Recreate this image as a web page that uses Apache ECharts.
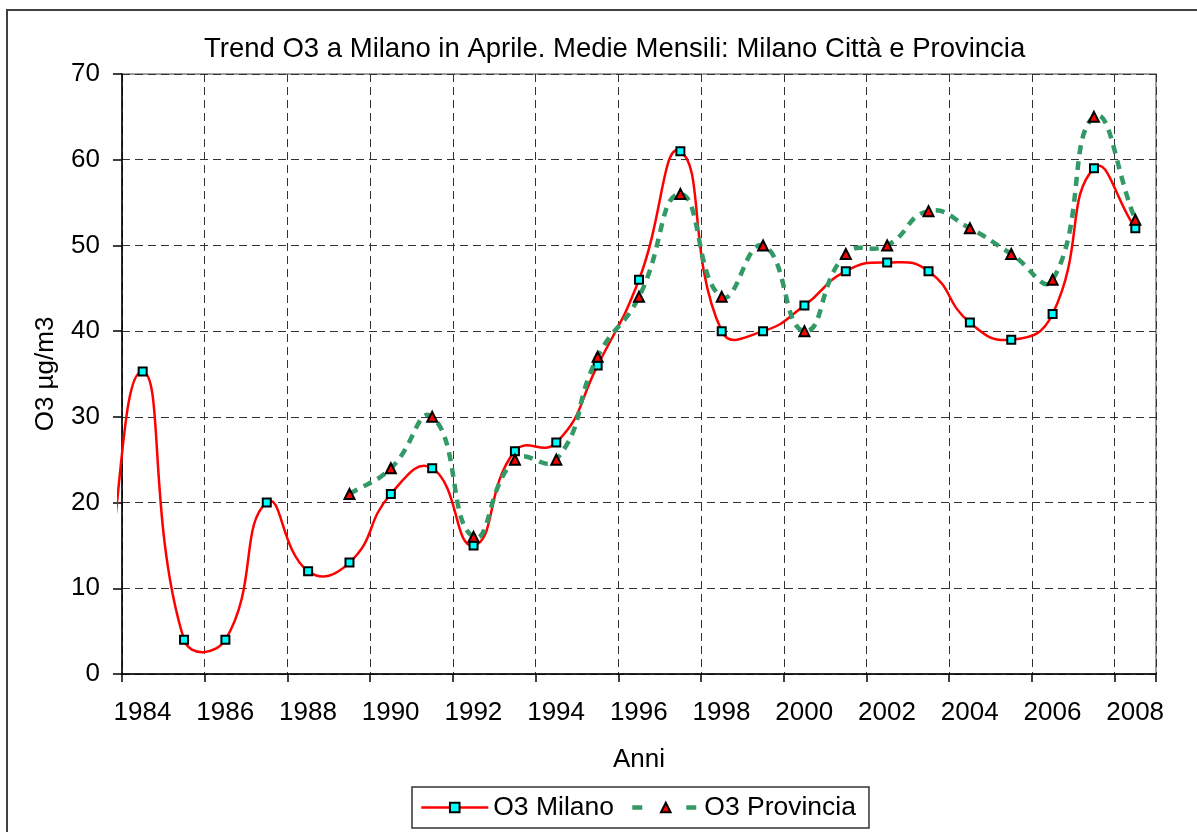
<!DOCTYPE html>
<html>
<head>
<meta charset="utf-8">
<script src="https://cdn.jsdelivr.net/npm/echarts@6/dist/echarts.min.js"></script>
<style>
html,body{margin:0;padding:0;background:#fff;}
#chart{width:1197px;height:832px;}
</style>
</head>
<body>
<div id="chart"></div>
<script>
// ---- data ----
const years = [1983,1984,1985,1986,1987,1988,1989,1990,1991,1992,1993,1994,1995,1996,1997,1998,1999,2000,2001,2002,2003,2004,2005,2006,2007,2008];
const milano = [5,35.3,4,4,20,12,13,21,24,15,26,27,36,46,61,40,40,43,47,48,47,41,39,42,59,52];
const provincia = [null,null,null,null,null,null,21,24,30,16,25,25,37,44,56,44,50,40,49,50,54,52,49,46,65,53];
const yTicks = [0,10,20,30,40,50,60,70];
const xLabels = ['1984','1986','1988','1990','1992','1994','1996','1998','2000','2002','2004','2006','2008'];
const seriesNames = ['O3 Milano','O3 Provincia'];
const titleText = 'Trend O3 a Milano in Aprile. Medie Mensili: Milano Città e Provincia';

// x axis runs in "years since 1983.5" (axis starts half a category before 1984)
const X0 = 1983.5;
const FONT = 'Liberation Sans, Arial, sans-serif';

function pairs(vals){
  const out = [];
  years.forEach((y,i)=>{ if(vals[i]!=null) out.push([y - X0, vals[i]]); });
  return out;
}
function markerPairs(vals){ return pairs(vals).filter(p=>p[0]>=0); }

// Excel-like smoothed curve built from data through the axis scales
function curveSeries(vals, color, width, dash, z){
  return {
    type:'custom',
    z:z,
    silent:true,
    data:[[0,0]],
    renderItem:function(params, api){
      if(params.dataIndex!==0) return null;
      const pts = pairs(vals).map(p=>api.coord(p));
      const s = 0.5;
      const cps = pts.map((p,i)=>{
        const prev = pts[i-1]||p, next = pts[i+1]||p;
        const vx = next[0]-prev[0], vy = next[1]-prev[1];
        const d0 = Math.hypot(p[0]-prev[0], p[1]-prev[1]);
        const d1 = Math.hypot(next[0]-p[0], next[1]-p[1]);
        const sum = (d0+d1)||1;
        return {inn:[p[0]-vx*s*d0/sum, p[1]-vy*s*d0/sum], out:[p[0]+vx*s*d1/sum, p[1]+vy*s*d1/sum]};
      });
      let d = 'M'+pts[0][0]+' '+pts[0][1];
      for(let i=0;i<pts.length-1;i++){
        d += ' C'+cps[i].out[0]+' '+cps[i].out[1]+' '+cps[i+1].inn[0]+' '+cps[i+1].inn[1]+' '+pts[i+1][0]+' '+pts[i+1][1];
      }
      const cs = params.coordSys;
      return {
        type:'group',
        clipPath:{type:'rect', shape:{x:cs.x-5, y:cs.y-2, width:cs.width+5, height:cs.height+4}},
        children:[{
          type:'path',
          shape:{pathData:d},
          style:{stroke:color, lineWidth:width, fill:'none', lineDash:dash, lineCap:'butt', lineJoin:'round'}
        }]
      };
    }
  };
}

const chart = echarts.init(document.getElementById('chart'), null, {renderer:'canvas'});
chart.setOption({
  animation:false,
  backgroundColor:'#ffffff',
  textStyle:{fontFamily:FONT},
  title:{
    text:titleText,
    left:204,
    top:35,
    padding:0,
    textStyle:{fontFamily:FONT, fontSize:27.5, fontWeight:'normal', color:'#000'}
  },
  graphic:[{
    type:'rect', z:-10, silent:true,
    shape:{x:7, y:10, width:1300, height:900},
    style:{fill:'none', stroke:'#404040', lineWidth:2}
  }],
  legend:{
    left:412, top:787,
    orient:'horizontal',
    padding:[7,13,7,8],
    itemGap:16,
    itemWidth:67, itemHeight:12,
    backgroundColor:'#fff',
    borderColor:'#333', borderWidth:1.5,
    textStyle:{fontFamily:FONT, fontSize:26.5, color:'#000'},
    data:[
      {name:seriesNames[0], lineStyle:{color:'#ff0000', width:2.5, type:'solid', opacity:1}},
      {name:seriesNames[1], lineStyle:{color:'#339966', width:4.5, type:[10,44], opacity:1}}
    ]
  },
  grid:{
    left:122, top:74, width:1034, height:600,
    show:true, borderColor:'#808080', borderWidth:1.5, backgroundColor:'#fff'
  },
  xAxis:{
    type:'value',
    min:0, max:25, interval:2,
    name:'Anni', nameLocation:'middle', nameGap:73,
    nameTextStyle:{fontFamily:FONT, fontSize:26, color:'#000'},
    axisLine:{show:true, lineStyle:{color:'#000', width:1.5}},
    axisTick:{show:true, inside:false, length:8, lineStyle:{color:'#000', width:1.5}},
    axisLabel:{
      fontFamily:FONT, fontSize:26, color:'#000', margin:26,
      padding:[0,0,0,41],
      showMinLabel:true, showMaxLabel:true,
      formatter:function(v){ const k = Math.round(v/2); return (Math.abs(v-2*k)<1e-6 && xLabels[k]) ? xLabels[k] : ''; }
    },
    splitLine:{show:true, lineStyle:{color:'#333', width:1, type:[8,5]}}
  },
  yAxis:{
    type:'value',
    min:yTicks[0], max:yTicks[yTicks.length-1], interval:10,
    name:'O3 µg/m3', nameLocation:'middle', nameGap:63, nameRotate:90,
    nameTextStyle:{fontFamily:FONT, fontSize:26, color:'#000'},
    axisLine:{show:true, lineStyle:{color:'#000', width:1.5}},
    axisTick:{show:true, inside:false, length:9, lineStyle:{color:'#000', width:1.5}},
    axisLabel:{fontFamily:FONT, fontSize:26, color:'#000', margin:22},
    splitLine:{show:true, lineStyle:{color:'#333', width:1, type:[8,5]}}
  },
  series:[
    curveSeries(milano, '#ff0000', 2.5, null, 2),
    {
      name:seriesNames[0], type:'line', z:3,
      data:markerPairs(milano),
      symbol:'rect', symbolSize:8, showSymbol:true, showAllSymbol:true,
      lineStyle:{color:'#ff0000', width:2.5, type:'solid', opacity:0},
      itemStyle:{color:'#00ffff', borderColor:'#000', borderWidth:2},
      emphasis:{disabled:true}
    },
    curveSeries(provincia, '#339966', 4.5, [9,7], 4),
    {
      name:seriesNames[1], type:'line', z:5,
      data:markerPairs(provincia),
      symbol:'triangle', symbolSize:10, showSymbol:true, showAllSymbol:true,
      lineStyle:{color:'#339966', width:4.5, type:[10,44], opacity:0},
      itemStyle:{color:'#ff0000', borderColor:'#000', borderWidth:2},
      emphasis:{disabled:true}
    }
  ]
});
</script>
</body>
</html>
